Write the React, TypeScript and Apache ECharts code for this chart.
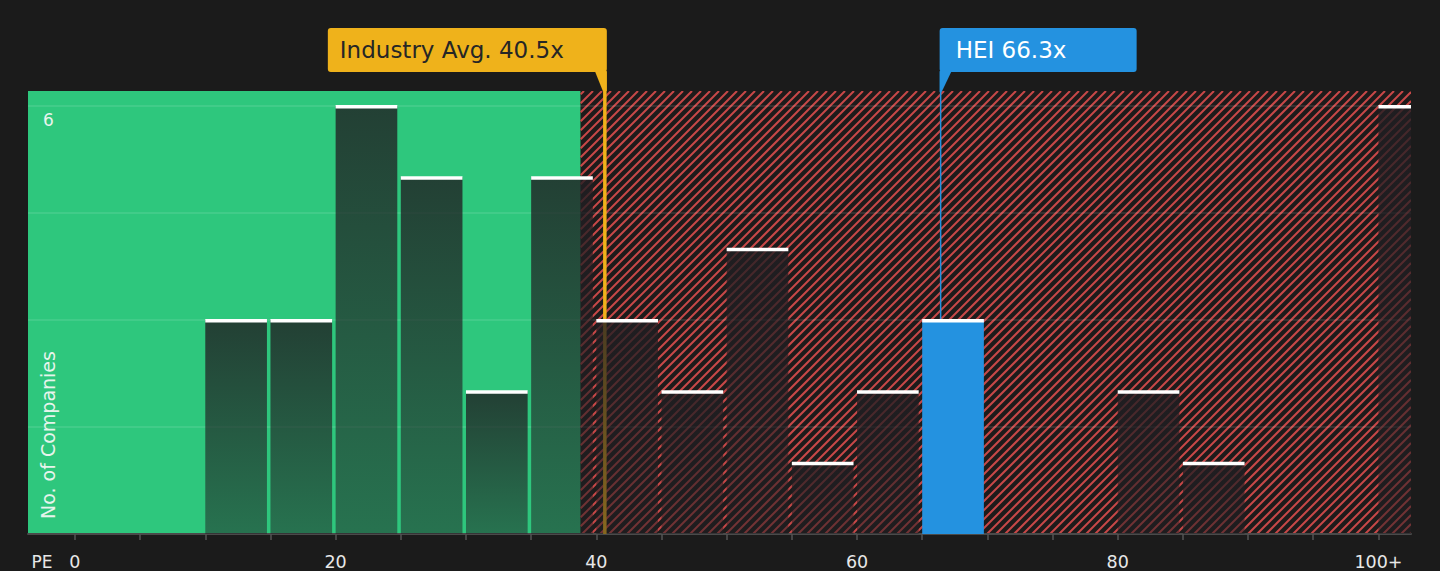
import React, { useEffect, useRef } from "react";
import * as echarts from "echarts";

// ---- data ----
const binStarts = [0, 5, 10, 15, 20, 25, 30, 35, 40, 45, 50, 55, 60, 65, 70, 75, 80, 85, 90, 95, 100];
const binCounts = [0, 0, 3, 3, 6, 5, 2, 5, 3, 2, 4, 1, 2, 3, 0, 0, 2, 1, 0, 0, 6];
const binWidth = 5;
const industryAvg = 40.5;
const companyPE = 66.3;
const companyName = "HEI";
const fairUpTo = 38.8;
const xTickValues = [0, 5, 10, 15, 20, 25, 30, 35, 40, 45, 50, 55, 60, 65, 70, 75, 80, 85, 90, 95, 100];
const xLabelValues = [0, 20, 40, 60, 80, 100];
const yLabelValues = [6];

const X_MIN = -3.6;
const X_MAX = 102.5;
const Y_MAX = 6.21;
const FONT = "DejaVu Sans";

export default function App() {
  const ref = useRef<HTMLDivElement>(null);

  useEffect(() => {
    document.body.style.margin = "0";
    document.body.style.background = "#1b1b1b";
    if (!ref.current) return;
    const chart = echarts.init(ref.current, undefined, { renderer: "svg" });

    const barData = binStarts.map((s, i) => [
      s,
      s + binWidth,
      binCounts[i],
      companyPE >= s && companyPE < s + binWidth ? 1 : 0,
    ]);

    const bgData = [
      [X_MIN, fairUpTo, 0],
      [fairUpTo, X_MAX, 1],
    ];

    const annotations = [
      { value: industryAvg, text: `Industry Avg. ${industryAvg}x`, kind: 0 },
      { value: companyPE, text: `${companyName} ${companyPE}x`, kind: 1 },
    ];

    const option: any = {
      animation: false,
      backgroundColor: "#1b1b1b",
      grid: { left: 28, right: 29, top: 91, bottom: 37 },
      xAxis: {
        type: "value",
        min: X_MIN,
        max: X_MAX,
        axisLine: { show: true, onZero: false, lineStyle: { color: "#4a4a4a", width: 2 } },
        axisTick: {
          show: true,
          customValues: xTickValues,
          length: 6,
          lineStyle: { color: "#555", width: 1.5 },
        },
        axisLabel: {
          customValues: xLabelValues,
          formatter: (v: number) => (v === 100 ? "100+" : String(v)),
          color: "#e8e8e8",
          fontSize: 17.5,
          fontFamily: FONT,
          margin: 19,
        },
        splitLine: { show: false },
      },
      yAxis: {
        type: "value",
        min: 0,
        max: Y_MAX,
        interval: 1.5,
        axisLine: { show: false },
        axisTick: { show: false },
        axisLabel: {
          inside: true,
          margin: 15,
          formatter: (v: number) => (yLabelValues.includes(v) ? String(v) : ""),
          color: "#e8f4ee",
          fontSize: 17,
          fontFamily: FONT,
          verticalAlign: "top",
          align: "left",
          padding: [6, 0, 0, 0],
        },
        splitLine: {
          show: true,
          showMaxLine: false,
          showMinLine: false,
          lineStyle: { color: "rgba(255,255,255,0.13)", width: 1.5 },
        },
      },
      graphic: [
        {
          type: "text",
          x: 48,
          y: 519,
          rotation: Math.PI / 2,
          z: 5,
          style: {
            text: "No. of Companies",
            fill: "#e6f4ec",
            fontSize: 19,
            fontFamily: FONT,
            align: "left",
            verticalAlign: "middle",
          },
        },
        {
          type: "text",
          x: 42,
          y: 561.5,
          z: 5,
          style: {
            text: "PE",
            fill: "#e8e8e8",
            fontSize: 17,
            fontFamily: FONT,
            align: "center",
            verticalAlign: "middle",
          },
        },
      ],
      series: [
        {
          type: "custom",
          z: -1,
          silent: true,
          clip: true,
          encode: { x: [0, 1] },
          data: bgData,
          renderItem: (params: any, api: any) => {
            const start = api.value(0);
            const end = api.value(1);
            const kind = api.value(2);
            const p0 = api.coord([start, Y_MAX]);
            const p1 = api.coord([end, 0]);
            const x0 = p0[0], y0 = p0[1], x1 = p1[0], y1 = p1[1];
            if (kind === 0) {
              return {
                type: "rect",
                shape: { x: x0, y: y0, width: x1 - x0, height: y1 - y0 },
                style: { fill: "#2ec77d" },
              };
            }
            const children: any[] = [
              {
                type: "rect",
                shape: { x: x0, y: y0, width: x1 - x0, height: y1 - y0 },
                style: { fill: "#1d1b1b" },
              },
            ];
            const P = 9;
            const cStart = Math.ceil((x0 + y0) / P) * P;
            for (let c = cStart; c <= x1 + y1; c += P) {
              const xa = Math.max(x0, c - y1);
              const xb = Math.min(x1, c - y0);
              if (xb <= xa) continue;
              children.push({
                type: "line",
                shape: { x1: xa, y1: c - xa, x2: xb, y2: c - xb },
                style: { stroke: "#c84848", lineWidth: 2 },
              });
            }
            return { type: "group", children };
          },
        },
        {
          type: "custom",
          z: 1,
          silent: true,
          clip: false,
          encode: { x: 0 },
          data: annotations.map((a) => [a.value, 0]),
          renderItem: (params: any, api: any) => {
            const a = annotations[params.dataIndex];
            const base = api.coord([a.value, 0]);
            if (a.kind === 0) {
              return {
                type: "line",
                shape: { x1: base[0] + 2, y1: 72, x2: base[0] + 2, y2: base[1] },
                style: { stroke: "#efb21b", lineWidth: 3.5 },
              };
            }
            return {
              type: "line",
              shape: { x1: base[0] + 1.5, y1: 72, x2: base[0] + 1.5, y2: base[1] },
              style: { stroke: "#2492e0", lineWidth: 1.5 },
            };
          },
        },
        {
          type: "custom",
          z: 2,
          silent: true,
          clip: true,
          encode: { x: [0, 1], y: 2 },
          data: barData,
          renderItem: (params: any, api: any) => {
            const start = api.value(0);
            const end = api.value(1);
            const count = api.value(2);
            const isCo = api.value(3);
            if (!count) return { type: "group", children: [] };
            const top = api.coord([start, count]);
            const bot = api.coord([end, 0]);
            const x0 = top[0];
            const w = bot[0] - top[0] - 3.5;
            const fill = isCo
              ? "#2492e0"
              : new echarts.graphic.LinearGradient(0, 0, 0, 1, [
                  { offset: 0, color: "rgba(32,30,34,0.8)" },
                  { offset: 1, color: "rgba(32,30,34,0.5)" },
                ]);
            return {
              type: "group",
              children: [
                {
                  type: "rect",
                  shape: { x: x0, y: top[1], width: w, height: bot[1] - top[1] },
                  style: { fill },
                },
                {
                  type: "rect",
                  shape: { x: x0, y: top[1] - 1, width: w, height: 3.5 },
                  style: { fill: "#ffffff" },
                },
              ],
            };
          },
        },
        {
          type: "custom",
          z: 4,
          silent: true,
          clip: false,
          encode: { x: 0 },
          data: annotations.map((a) => [a.value, 0]),
          renderItem: (params: any, api: any) => {
            const a = annotations[params.dataIndex];
            const lx = api.coord([a.value, 0])[0];
            if (a.kind === 0) {
              const right = lx + 4;
              const w = 279;
              return {
                type: "group",
                children: [
                  {
                    type: "rect",
                    shape: { x: right - w, y: 28, width: w, height: 44, r: 3 },
                    style: { fill: "#efb21b" },
                  },
                  {
                    type: "polygon",
                    shape: {
                      points: [
                        [lx - 8, 71],
                        [right, 71],
                        [right, 91],
                        [lx, 91],
                      ],
                    },
                    style: { fill: "#efb21b" },
                  },
                  {
                    type: "text",
                    x: right - w + 12,
                    y: 50,
                    style: {
                      text: a.text,
                      fill: "#262626",
                      fontSize: 23,
                      fontFamily: FONT,
                      align: "left",
                      verticalAlign: "middle",
                    },
                  },
                ],
              };
            }
            const left = lx + 0.5;
            const w = 197;
            return {
              type: "group",
              children: [
                {
                  type: "rect",
                  shape: { x: left, y: 28, width: w, height: 44, r: 3 },
                  style: { fill: "#2492e0" },
                },
                {
                  type: "polygon",
                  shape: {
                    points: [
                      [left, 71],
                      [left + 12, 71],
                      [left + 2, 92],
                      [left, 92],
                    ],
                  },
                  style: { fill: "#2492e0" },
                },
                {
                  type: "text",
                  x: left + 16,
                  y: 50,
                  style: {
                    text: a.text,
                    fill: "#ffffff",
                    fontSize: 23,
                    fontFamily: FONT,
                    align: "left",
                    verticalAlign: "middle",
                  },
                },
              ],
            };
          },
        },
      ],
    };

    chart.setOption(option);
    return () => chart.dispose();
  }, []);

  return <div ref={ref} style={{ width: 1440, height: 571 }} />;
}
